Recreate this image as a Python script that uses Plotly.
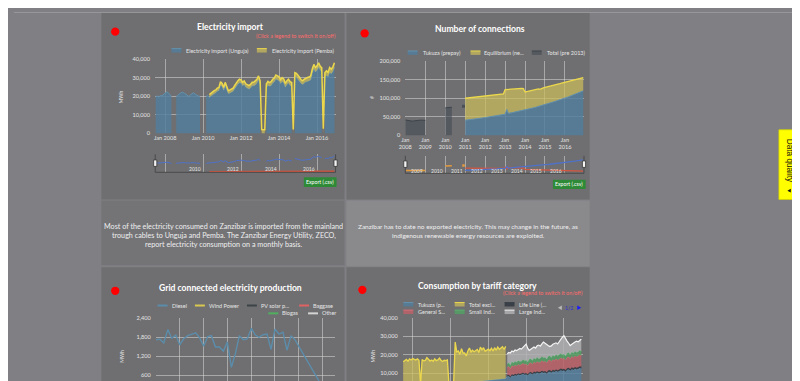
import plotly.graph_objects as go
import pandas as pd

W, H = 800, 381
def X(px): return px / W
def Y(py): return 1 - py / H

FONT = "Lato"
PAGE_BG = "#808084"
PANEL = "#6f6f71"
GRID = "rgba(215,215,215,0.55)"
TICK = "#e4e4e4"

# ---------------- data: Electricity import (MWh, monthly) ----------------
import_start = "2007-07-01"
unguja_mwh = [
    20000, 20200, 19800, 20500, 20300, 21000,
    22000, 22500, 22000, 21000, 20000, None, None, 20000, 20500, 21500, 22000, 22300,
    21800, 21000, 20500, 20000, 20800, 21500, 22000, 21200, 20500, 20200, 20000, None,
    None, None, 20000, 20500, 19500, 20300, 20900, 21500, 22000, 22900, 23200, 26200,
    25400, 23300, 25900, 23300, 21500, 21900, 22300, 22800, 24200, 25800, 26700, 27400,
    27200, 25800, 26500, 25000, 24500, 24000, 24600, 25700, 25700, 26200, 27300, 29000,
    26400, None, None, None, 24700, 26100, 25500, 25900, 27200, 27900, 29400, 28800,
    28500, 27000, 28100, 27400, 25000, 26400, 27200, 25900, 25500, None, 30700, 30300,
    28900, 28100, 27000, 26400, 27200, 27900, 28000, 28300, 28900, 32400, 34900, 33200,
    34100, 35700, 34000, 33100, None, 30500, 31400, 30600, 33100, 32200, 33500, 35600,
]
pemba_start = "2010-05-01"
pemba_mwh = [
    1500, 1500, 1600, 1600, 1500, 1600, 1600, 1700,
    1600, 1600, 1700, 1700, 1600, 1600, 1700, 1700, 1800, 1800, 1800, 1900,
    1800, 1800, 1900, 1800, 1800, 1800, 1900, 1900, 1900, 2000, 2000, 2100,
    2000, 2100, 2100, 2000, 2000, 2000, 2000, 2100, 2100, 2100, 2200, 2200,
    2100, 2000, 2100, 2100, 2000, 2100, 2100, 2100, 2000, 2100, 2200, 2200,
    2100, 2100, 2000, 2000, 2100, 2100, 2200, 2200, 2200, 2300, 2400, 2400,
    2400, 2500, 2400, 2400, 2500, 2400, 2400, 2400, 2500, 2500, 2500, 2600,
]
import_legend = ["Electricity import (Unguja)", "Electricity import (Pemba)"]
import_nav_labels = ["2010", "2012", "2014", "2016"]

# ---------------- data: Number of connections ----------------
total_start = "2008-01-01"
total_pre2013 = [
    41500, 40500, 39000, 38500, 38500, 39000, 40000, 40500, 40500, 41000, 41000, 40500, 40500,
    None, None, None, None, None, None, None, None, None, None, None,
    74000, 75000, 75000, 75500, 75500,
    None, None, None, None, None, None,
    78500,
]
conn_start = "2011-01-01"
tukuza_conn = [
    41000, 41400, 42100, 42600, 43100, 43900, 44400, 44900, 45700, 46200, 46800, 47300,
    48000, 48600, 49500, 50100, 50700, 51600, 52300, 53000, 54000, 54600, 55500, 56200,
    57000, 70000, 59500, 60000, 60900, 61500, 62600, 63100, 64200, 64900, 66100, 66800,
    68000, 69300, 70300, 71700, 72700, 74100, 75100, 76700, 77900, 79500, 80700, 82100,
    83000, 84500, 85700, 87300, 88500, 90100, 91400, 93100, 94400, 96100, 97400, 99100,
    100000, 101900, 103500, 105500, 107100, 109100, 110700, 112700, 114300, 116300, 117900, 119900,
]
equilibrium_conn = [
    59000, 59100, 58900, 58900, 58900, 58600, 58600, 58600, 58300, 58300, 58200, 58200,
    58000, 57900, 57500, 57400, 57300, 56900, 56700, 56500, 56000, 55900, 55500, 55800,
    66000, 53500, 64500, 64000, 64600, 64000, 63400, 62900, 61800, 61600, 60400, 59200,
    49000, 48700, 48700, 48800, 48300, 47900, 48400, 47300, 47100, 44500, 45800, 45900,
    46000, 45500, 45800, 45200, 45000, 44900, 44600, 43900, 44100, 43400, 43600, 42900,
    43000, 42600, 42500, 41500, 40900, 40400, 39300, 38300, 37700, 36700, 36100, 35600,
]
conn_legend = ["Tukuza (prepay)", "Equilibrium (ne...", "Total (pre 2013)"]
conn_nav_labels = ["2009", "2010", "2011", "2012", "2013", "2014", "2015", "2016"]

# ---------------- data: Grid connected electricity production ----------------
prod_start = "2012-01-01"
diesel_mwh = [
    1720, 1740, 1620, 2040, 1770, 1870, 1560, 1750, 1850, 1900, 1940, 1780,
    1520, 1820, 1850, 1490, 1490, 1360, 1650, 850, 1280, 1850, 1720, 1750,
    2080, 1870, 1800, 1880, 1900, 1420, 2060, 1900, 1960, 1390, 1850, 1720,
    None, None, None, None, None, None, None, 0,
]
prod_legend_row1 = ["Diesel", "Wind Power", "PV solar p...", "Baggase"]
prod_legend_row2 = ["Biogas", "Other"]

# ---------------- data: Consumption by tariff category ----------------
tariff_start = "2007-07-01"
tukuza_mwh = [
    3600, 3700, 3600, 3800, 3700, 3900,
    3800, 3900, 3800, 3700, 3800, 3900, 3900, 3800, 3900, 4000, 4000, 4100,
    4000, 4100, 4000, 4100, 4200, 4200, 4100, 4200, 4300, 4300, 4400, 4400,
    4200, 4300, 4500, 4600, 4700, 4800, 4800, 4900, 5000, 5100, 5000, 5200,
    5300, 5200, 5400, 5500, 5500, 5600, 5700, 5800, 5900, 6000, 6000, 6200,
    6300, 6200, 6400, 6500, 6500, 6600, 6700, 6800, 6900, 7000, 7000, 7200,
    8200, 8500, 7600, 8800, 8400, 9000, 8700, 9300, 8900, 9100, 9600, 9200,
    9400, 8800, 9700, 9900, 9300, 10100, 9800, 10300, 9900, 10000, 10600, 10200,
    10400, 9800, 10600, 10900, 10300, 11000, 10700, 11200, 10800, 11100, 11600, 11300,
    11500, 10900, 11800, 12000, 11400, 12200, 11800, 12400, 12000, 12300, 12800, 12500,
]
total_excl_mwh = [
    12600, 13100, 13900, 12700, 14100, 13300,
    14200, 13600, 13400, 14100, 13200, 0, 13500, 13000, 13100, 14500, 13500, 12500,
    13200, 12400, 13800, 12700, 13000, 14000, 12900, 12200, 12700, 12500, 12800, 0,
    0, 0, 0, 22200, 16800, 17200, 15400, 18300, 15800, 15900, 14400, 16800,
    18300, 16300, 17000, 16100, 16700, 17200, 15500, 18300, 16700, 17800, 15900, 16300,
    16700, 16000, 17100, 15500, 17300, 15800, 17400, 16100, 16500, 17300, 15800, 17300,
]
post_start = "2013-01-01"
life_line_mwh = [
    700, 700, 650, 720, 700, 740, 700, 730, 710, 720, 750, 730,
    760, 740, 780, 800, 770, 810, 790, 820, 800, 810, 840, 820,
    850, 820, 870, 890, 860, 900, 880, 910, 890, 900, 930, 910,
    940, 910, 960, 980, 950, 1000, 970, 1010, 990, 1000, 1030, 1010,
]
general_mwh = [
    4400, 4600, 4300, 4700, 4500, 4800, 4600, 4900, 4700, 4800, 5000, 4800,
    4900, 4600, 5000, 5100, 4800, 5200, 5000, 5300, 5100, 5200, 5400, 5200,
    5300, 5000, 5400, 5500, 5200, 5600, 5400, 5700, 5500, 5600, 5800, 5600,
    5700, 5400, 5800, 5900, 5600, 6000, 5800, 6100, 5900, 6000, 6200, 6000,
]
small_ind_mwh = [
    1800, 1900, 1800, 2000, 1900, 2000, 1900, 2000, 2000, 1900, 2100, 2000,
    2000, 1900, 2100, 2100, 2000, 2100, 2000, 2200, 2100, 2100, 2200, 2100,
    2100, 2000, 2200, 2200, 2100, 2200, 2100, 2300, 2200, 2200, 2300, 2200,
    2200, 2100, 2300, 2300, 2200, 2300, 2200, 2400, 2300, 2300, 2400, 2300,
]
large_ind_mwh = [
    5400, 5500, 6600, 5800, 6100, 6000, 6300, 5900, 7100, 6500, 6600, 7900,
    8700, 7400, 4800, 5100, 6900, 6000, 6000, 6200, 7300, 6500, 6800, 8500,
    7500, 7700, 5900, 4900, 6300, 5900, 6900, 6300, 6400, 7400, 8000, 9400,
    9900, 9100, 6500, 5000, 4800, 4100, 5600, 4900, 6100, 5400, 5200, 6600,
]
tariff_legend_row1 = ["Tukuza (p...", "Total excl...", "Life Line (..."]
tariff_legend_row2 = ["General S...", "Small Ind...", "Large Ind..."]

# ---------------- colours ----------------
BLUE_FILL = "rgba(82,126,156,0.82)"
BLUE_LINE = "#6491ad"
YEL_FILL = "rgba(204,188,92,0.72)"
YEL_LINE = "#ecd84c"
DARK_FILL = "rgba(66,74,84,0.6)"
DARK_LINE = "#3e444c"
RED_FILL = "rgba(186,98,104,0.88)"
RED_LINE = "#d66d7c"
GRN_FILL = "rgba(84,158,100,0.88)"
GRN_LINE = "#5cb070"
GRY_FILL = "rgba(176,176,179,0.85)"
WHT_LINE = "#f4f4f4"

fig = go.Figure()

def months(start, n):
    return pd.date_range(start, periods=n, freq="MS")

def band(x, base, top, xa, ya, fill, line, lw=1.0):
    fig.add_trace(go.Scatter(x=x, y=base, mode="lines", line=dict(width=0, color="rgba(0,0,0,0)"),
                             xaxis=xa, yaxis=ya, hoverinfo="skip"))
    fig.add_trace(go.Scatter(x=x, y=top, mode="lines", fill="tonexty", fillcolor=fill,
                             line=dict(color=line, width=lw), xaxis=xa, yaxis=ya))

def runs(dates, vals):
    """split a series with None gaps into contiguous runs"""
    out, cx, cy = [], [], []
    for d, v in zip(dates, vals):
        if v is None:
            if cx:
                out.append((cx, cy))
            cx, cy = [], []
        else:
            cx.append(d)
            cy.append(v)
    if cx:
        out.append((cx, cy))
    return out

def area_runs(dates, vals, xa, ya, fill, line, lw=1.0, marker_color=None):
    for rx, ry in runs(dates, vals):
        if len(rx) == 1:
            fig.add_trace(go.Scatter(x=rx, y=ry, mode="markers", xaxis=xa, yaxis=ya,
                                     marker=dict(size=3, color=marker_color or line, symbol="square")))
        else:
            fig.add_trace(go.Scatter(x=rx, y=ry, mode="lines", fill="tozeroy", fillcolor=fill,
                                     line=dict(color=line, width=lw), xaxis=xa, yaxis=ya))

# ---- chart 1 ----
d_u = months(import_start, len(unguja_mwh))
d_p = months(pemba_start, len(pemba_mwh))
u_by_date = dict(zip(d_u, unguja_mwh))
p_base = [u_by_date.get(d) or 0 for d in d_p]
p_top = [b + p for b, p in zip(p_base, pemba_mwh)]
area_runs(d_u, unguja_mwh, "x", "y", BLUE_FILL, BLUE_LINE, 1)
band(d_p, p_base, p_top, "x", "y", YEL_FILL, YEL_LINE, 1.5)
# navigator 1
fig.add_trace(go.Scatter(x=d_u, y=unguja_mwh, mode="lines", line=dict(color="#4f72c8", width=1),
                         connectgaps=False, xaxis="x5", yaxis="y5"))
fig.add_trace(go.Scatter(x=d_p, y=pemba_mwh, mode="lines", line=dict(color="#d4553f", width=1.5),
                         xaxis="x5", yaxis="y5"))

# ---- chart 2 ----
d_t = months(total_start, len(total_pre2013))
d_c = months(conn_start, len(tukuza_conn))
area_runs(d_t, total_pre2013, "x2", "y2", DARK_FILL, DARK_LINE, 1, marker_color="#4a5058")
fig.add_trace(go.Scatter(x=d_c, y=tukuza_conn, mode="lines", stackgroup="conn", fillcolor=BLUE_FILL,
                         line=dict(color=BLUE_LINE, width=1), xaxis="x2", yaxis="y2"))
fig.add_trace(go.Scatter(x=d_c, y=equilibrium_conn, mode="lines", stackgroup="conn", fillcolor=YEL_FILL,
                         line=dict(color=YEL_LINE, width=1.3), xaxis="x2", yaxis="y2"))
# navigator 2
for rx, ry in runs(d_t, total_pre2013):
    fig.add_trace(go.Scatter(x=rx, y=ry, mode="lines" if len(rx) > 1 else "markers",
                             line=dict(color="#e49a3c", width=1.5),
                             marker=dict(size=2.5, color="#e49a3c", symbol="square"), xaxis="x6", yaxis="y6"))
fig.add_trace(go.Scatter(x=d_c, y=equilibrium_conn, mode="lines", line=dict(color="#d4553f", width=1.3),
                         xaxis="x6", yaxis="y6"))
fig.add_trace(go.Scatter(x=d_c, y=tukuza_conn, mode="lines", line=dict(color="#4f72c8", width=1.3),
                         xaxis="x6", yaxis="y6"))

# ---- chart 3 ----
d_d = months(prod_start, len(diesel_mwh))
fig.add_trace(go.Scatter(x=d_d, y=diesel_mwh, mode="lines", line=dict(color="#5b8dab", width=1.4),
                         connectgaps=True, xaxis="x3", yaxis="y3"))

# ---- chart 4 ----
d_all = months(tariff_start, len(tukuza_mwh))
fig.add_trace(go.Scatter(x=d_all, y=tukuza_mwh, mode="lines", fill="tozeroy", fillcolor=BLUE_FILL,
                         line=dict(color=BLUE_LINE, width=1), xaxis="x4", yaxis="y4"))
tuk_by_date = dict(zip(d_all, tukuza_mwh))
d_pre = months(tariff_start, len(total_excl_mwh))
pre_base = [tuk_by_date[d] for d in d_pre]
band(d_pre, pre_base, [b + v for b, v in zip(pre_base, total_excl_mwh)], "x4", "y4", YEL_FILL, YEL_LINE, 1.3)
d_post = months(post_start, len(life_line_mwh))
cum = [tuk_by_date[d] for d in d_post]
for vals, fc, lc, lw in [(life_line_mwh, "rgba(52,58,66,0.9)", "#3a4048", 1.0),
                         (general_mwh, RED_FILL, RED_LINE, 1.0),
                         (small_ind_mwh, GRN_FILL, GRN_LINE, 1.0),
                         (large_ind_mwh, GRY_FILL, WHT_LINE, 1.2)]:
    top = [c + v for c, v in zip(cum, vals)]
    band(d_post, cum, top, "x4", "y4", fc, lc, lw)
    cum = top

# ---------------- axes ----------------
tf = dict(size=5.6, color=TICK, family=FONT)
def xax(x0, x1, rng, anchor, **kw):
    d = dict(domain=[X(x0), X(x1)], range=rng, type="date", showgrid=True, gridcolor=GRID, gridwidth=1,
             zeroline=False, showline=False, tickfont=tf, anchor=anchor, fixedrange=True, ticks="")
    d.update(kw)
    return d
def yax(y_top, y_bot, rng, anchor, **kw):
    d = dict(domain=[Y(y_bot), Y(y_top)], range=rng, showgrid=True, gridcolor=GRID, gridwidth=1,
             zeroline=False, showline=False, tickfont=tf, anchor=anchor, fixedrange=True,
             ticks="outside", ticklen=3, tickcolor="rgba(0,0,0,0)", tickformat=",")
    d.update(kw)
    return d

r1 = ["2007-06-24", "2016-12-23"]
r2 = ["2008-01-01", "2016-12-15"]
fig.update_layout(
    xaxis=xax(142.3, 324, r1, "y", dtick="M24", tick0="2008-01-01", tickformat="%b %Y"),
    yaxis=yax(48.3, 123.7, [0, 40000], "x", dtick=10000),
    xaxis2=xax(394.3, 574.3, r2, "y2", dtick="M12", tick0="2008-01-01", tickformat="%b<br>%Y"),
    yaxis2=yax(50, 125.7, [0, 200000], "x2", dtick=50000),
    xaxis3=xax(143, 323, ["2012-01-01", "2015-10-01"], "y3", dtick="M6", tick0="2012-01-01", showticklabels=False),
    yaxis3=yax(312, 381, [257.7, 2400], "x3", dtick=600, tick0=0),
    xaxis4=xax(391.7, 573.3, ["2007-06-23", "2017-01-03"], "y4", dtick="M24", tick0="2008-01-01", showticklabels=False),
    yaxis4=yax(311.3, 381, [3170, 40000], "x4", dtick=10000),
    xaxis5=xax(142.3, 324, r1, "y5", dtick="M24", tick0="2008-01-01", showticklabels=False),
    yaxis5=yax(145, 163.3, [0, 40000], "x5", showgrid=False, showticklabels=False, ticks=""),
    xaxis6=xax(394.3, 574.3, r2, "y6", dtick="M12", tick0="2008-01-01", showticklabels=False),
    yaxis6=yax(146.5, 164.3, [20000, 150000], "x6", showgrid=False, showticklabels=False, ticks=""),
)

# ---------------- decorations ----------------
shapes, ann = [], []
def rect(x0, y0, x1, y1, fill, line=None, lw=0, layer="below"):
    shapes.append(dict(type="rect", xref="paper", yref="paper", x0=X(x0), x1=X(x1), y0=Y(y1), y1=Y(y0),
                       fillcolor=fill, line=dict(width=lw, color=line or fill), layer=layer))
def seg(x0, y0, x1, y1, color, w=1, layer="above"):
    shapes.append(dict(type="line", xref="paper", yref="paper", x0=X(x0), x1=X(x1), y0=Y(y0), y1=Y(y1),
                       line=dict(color=color, width=w), layer=layer))
def tri(pts, color):
    path = "M " + " L ".join(f"{X(px):.5f},{Y(py):.5f}" for px, py in pts) + " Z"
    shapes.append(dict(type="path", xref="paper", yref="paper", path=path, fillcolor=color,
                       line=dict(width=0), layer="above"))
def dot(cx, cy, r, color):
    shapes.append(dict(type="circle", xref="paper", yref="paper", x0=X(cx - r), x1=X(cx + r), y0=Y(cy + r),
                       y1=Y(cy - r), fillcolor=color, line=dict(width=0), layer="above"))
def text(x, y, s, size, color="#e6e6e6", xanchor="center", angle=0, family=FONT, **kw):
    d = dict(x=X(x), y=Y(y), xref="paper", yref="paper", text=s, showarrow=False, xanchor=xanchor,
             yanchor="middle", font=dict(size=size, color=color, family=family), textangle=angle, borderpad=0)
    d.update(kw)
    ann.append(d)

# panels
rect(88, 0, 333, 191, PANEL)
rect(335, 0, 580, 191, PANEL)
rect(88, 192, 333, 258, "#747477")
rect(335, 192, 580, 259, "#8a8a8d")
rect(88, 260, 333, 381, PANEL)
rect(335, 260, 580, 381, PANEL)

# red dots
for cx, cy in [(102, 20), (353.3, 21.7), (102, 284), (351, 283)]:
    dot(cx, cy, 4.2, "#ff0000")

# titles
TT = 8.6
text(218.2, 15.7, "<b>Electricity import</b>", TT, "#ffffff")
text(325.3, 24, "(Click a legend to switch it on/off)", 5.4, "#ff6b6b", xanchor="right")
text(469.3, 17.3, "<b>Number of connections</b>", TT, "#ffffff")
text(218, 280.7, "<b>Grid connected electricity production</b>", TT, "#ffffff")
text(467.5, 279, "<b>Consumption by tariff category</b>", TT, "#ffffff")
text(574.3, 286.3, "(Click a legend to switch it on/off)", 5.4, "#ff6b6b", xanchor="right")

# axis titles
text(108.7, 86, "MWh", 5, TICK, angle=-90)
text(360, 87.3, "#", 5.2, TICK, angle=-90)
text(108, 351, "MWh", 5, TICK, angle=-90)
text(361.7, 350, "MWh", 5, TICK, angle=-90)

LEG = 5.5
def area_swatch(x0, y, fill, line):
    rect(x0, y - 2, x0 + 10, y + 2, fill, layer="above")
    seg(x0, y - 2, x0 + 10, y - 2, line, 1)
def line_swatch(x0, y, color):
    seg(x0, y, x0 + 10, y, color, 2)

# legend chart 1
area_swatch(158.7, 39.3, BLUE_FILL, BLUE_LINE)
text(172, 39.3, import_legend[0], LEG, xanchor="left")
area_swatch(244.7, 39.3, YEL_FILL, YEL_LINE)
text(258.7, 39.3, import_legend[1], LEG, xanchor="left")

# legend chart 2
area_swatch(396.7, 41.7, BLUE_FILL, BLUE_LINE)
text(411, 41.7, conn_legend[0], LEG, xanchor="left")
area_swatch(460, 41.7, YEL_FILL, YEL_LINE)
text(472.7, 41.7, conn_legend[1], LEG, xanchor="left")
area_swatch(521.7, 41.7, DARK_FILL, DARK_LINE)
text(535.7, 41.7, conn_legend[2], LEG, xanchor="left")

# legend chart 3
for (sx, tx), name, col in zip([(144.7, 158), (182.3, 195.3), (234.7, 248), (287.3, 300)], prod_legend_row1,
                               ["#5b8dab", "#d8c850", "#3c4448", "#e06262"]):
    line_swatch(sx, 299, col)
    text(tx, 299, name, LEG, xanchor="left")
for (sx, tx), name, col in zip([(256.3, 268.7), (296.3, 309)], prod_legend_row2, ["#50b060", "#d4d4d4"]):
    line_swatch(sx, 307, col)
    text(tx, 307, name, LEG, xanchor="left")

# legend chart 4
cols = [(392.3, 406), (444, 457), (494.3, 507.7)]
for (sx, tx), name, (fc, lc) in zip(cols, tariff_legend_row1,
                                    [(BLUE_FILL, BLUE_LINE), (YEL_FILL, YEL_LINE), ("rgba(52,58,66,0.9)", "#3a4048")]):
    area_swatch(sx, 298, fc, lc)
    text(tx, 298, name, LEG, xanchor="left")
for (sx, tx), name, (fc, lc) in zip(cols, tariff_legend_row2,
                                    [(RED_FILL, RED_LINE), (GRN_FILL, GRN_LINE), (GRY_FILL, WHT_LINE)]):
    area_swatch(sx, 305.7, fc, lc)
    text(tx, 305.7, name, LEG, xanchor="left")
tri([(548, 301.3), (552, 299), (552, 303.6)], "#b8b8b8")
text(559.5, 301.3, "1/2", 5.2, "#3030d0")
tri([(571.5, 301.3), (567.5, 299), (567.5, 303.6)], "#1a1aff")

# navigators
for (x0, x1, yt, yb, hy0, hy1) in [(142.3, 324, 145, 163.3, 150.7, 157.3), (394.3, 574.3, 146.5, 164.3, 151.7, 158.3)]:
    seg(x0, yb, x1, yb, "#4a4a4c", 1)
    seg(x0, yt, x0, yb, "#4a4a4c", 1)
    seg(x1, yt, x1, yb, "#4a4a4c", 1)
    for hx in (x0, x1):
        rect(hx - 1.6, hy0, hx + 1.6, hy1, "#f4f4f4", "#333333", 0.8, layer="above")
for lab in import_nav_labels:
    ann.append(dict(x=f"{lab}-01-01", y=Y(160.3), xref="x5", yref="paper", text=lab, showarrow=False,
                    xanchor="right", yanchor="middle", xshift=-1.5, borderpad=0,
                    font=dict(size=5, color=TICK, family=FONT)))
for lab in conn_nav_labels:
    ann.append(dict(x=f"{lab}-01-01", y=Y(161.7), xref="x6", yref="paper", text=lab, showarrow=False,
                    xanchor="right", yanchor="middle", xshift=-1.5, borderpad=0,
                    font=dict(size=5, color=TICK, family=FONT)))

# export buttons
rect(292, 168.3, 325, 178.3, "#2f8a38", layer="above")
text(308.5, 173.3, "Export (.csv)", 5.2, "#ffffff")
rect(543, 171, 576, 180.3, "#2f8a38", layer="above")
text(559.5, 175.6, "Export (.csv)", 5.2, "#ffffff")

# text panels
text(211.5, 218.3, "Most of the electricity consumed on Zanzibar is imported from the mainland", 7.2, "#eeeeee")
text(211.5, 227.3, "trough cables to Unguja and Pemba. The Zanzibar Energy Utility, ZECO,", 7.2, "#eeeeee")
text(211.5, 236.7, "report electricity consumption on a monthly basis.", 7.2, "#eeeeee")
text(457.7, 218.3, "Zanzibar has to date no exported electricity. This may change in the future, as", 6.5, "#eeeeee")
text(457.7, 227.7, "indigenous renewable energy resources are exploited.", 6.5, "#eeeeee")

# scrollbar
rect(791, 0, 800, 381, "#f1f1f1", layer="above")
rect(792, 65, 799, 163, "#c1c1c1", layer="above")
tri([(795.5, 2.5), (793.5, 5.5), (797.5, 5.5)], "#a3a3a3")
tri([(795.5, 378.5), (793.5, 375.5), (797.5, 375.5)], "#a3a3a3")

# data quality tab
rect(770.7, 120, 791, 191, "#ffff00", "#d0d000", 0.8, layer="above")
text(781.2, 152, "Data quality", 8.2, "#111111", angle=90, family="Liberation Sans")
tri([(779.2, 182), (782.7, 180), (782.7, 184)], "#111111")

seg(0, 0.5, 791, 0.5, "#97979a", 1)

fig.update_layout(
    width=W, height=H, margin=dict(l=0, r=0, t=0, b=0),
    paper_bgcolor=PAGE_BG, plot_bgcolor="rgba(0,0,0,0)",
    showlegend=False, shapes=shapes, annotations=ann,
    font=dict(family=FONT, color=TICK),
)
fig.write_html("out.html", config={"displayModeBar": False})
